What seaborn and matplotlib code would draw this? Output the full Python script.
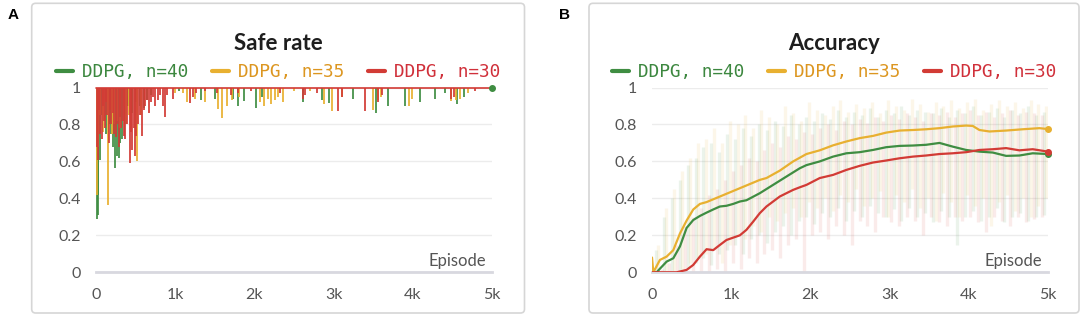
import matplotlib
matplotlib.use("Agg")
import matplotlib.pyplot as plt
import seaborn as sns
import pandas as pd
from matplotlib.patches import FancyBboxPatch
from matplotlib.lines import Line2D
from matplotlib.transforms import IdentityTransform

# ---------------- data ----------------
runs = ["DDPG, n=40", "DDPG, n=35", "DDPG, n=30"]
line_colors = ["#3f8d42", "#e8b030", "#d23b35"]
text_colors = ["#3c873f", "#dc9620", "#d0303a"]

x_ticks = [0, 1000, 2000, 3000, 4000, 5000]
x_tick_labels = ["0", "1k", "2k", "3k", "4k", "5k"]
y_ticks = [0, 0.2, 0.4, 0.6, 0.8, 1.0]
y_tick_labels = ["0", "0.2", "0.4", "0.6", "0.8", "1"]

# Safe rate: episodes where the rate dipped below 1, and the dip value
safe_ep_40 = [8, 30, 20, 50, 80, 120, 160, 190, 215, 240, 260, 285, 300, 330, 360, 400, 450,
              500, 560, 600, 650, 700, 1050, 1326, 1500, 1730, 1790, 1874, 2017, 2100, 2617,
              2850, 2943, 3248, 3530, 3683, 3900, 4087, 4278, 4404, 4557, 4650]
safe_val_40 = [0.29, 0.31, 0.42, 0.61, 0.85, 0.75, 0.80, 0.75, 0.68, 0.565, 0.63, 0.62, 0.70,
               0.72, 0.80, 0.90, 0.86, 0.92, 0.90, 0.89, 0.93, 0.96, 0.98, 0.93, 0.94, 0.94,
               0.90, 0.925, 0.89, 0.95, 0.92, 0.93, 0.915, 0.937, 0.86, 0.90, 0.90, 0.92,
               0.94, 0.97, 0.91, 0.95]

safe_ep_35 = [8, 30, 45, 90, 156, 200, 230, 260, 300, 350, 380, 420, 515, 570, 1000, 1100,
              1150, 1250, 1380, 1539, 1587, 1650, 1720, 1800, 2074, 2120, 2170, 2210, 2260,
              2300, 2357, 2500, 2700, 2878, 2978, 3100, 3500, 3560, 3600, 3957, 3990, 4487,
              4550, 4600, 4700]
safe_val_35 = [0.42, 0.68, 0.85, 0.76, 0.364, 0.75, 0.80, 0.82, 0.78, 0.90, 0.80, 0.85, 0.60,
               0.85, 0.97, 0.97, 0.92, 0.94, 0.92, 0.886, 0.834, 0.90, 0.93, 0.95, 0.92, 0.90,
               0.94, 0.91, 0.93, 0.95, 0.92, 0.98, 0.98, 0.91, 0.874, 0.95, 0.88, 0.93, 0.95,
               0.90, 0.94, 0.925, 0.93, 0.94, 0.97]

safe_ep_30 = [10, 25, 40, 55, 70, 85, 100, 115, 130, 145, 165, 180, 195, 210, 230, 250, 270,
              290, 305, 320, 340, 355, 370, 390, 430, 445, 460, 475, 490, 510, 530, 555, 577,
              600, 620, 640, 665, 690, 720, 750, 780, 810, 840, 865, 900, 978, 1183, 1220,
              1260, 1370, 1530, 1700, 1790, 1960, 2320, 2609, 2640, 2790, 3061, 3100, 3400,
              3565, 3610, 4480, 4520, 4790]
safe_val_30 = [0.68, 0.61, 0.88, 0.75, 0.72, 0.90, 0.82, 0.78, 0.92, 0.85, 0.70, 0.88, 0.80,
               0.86, 0.75, 0.73, 0.80, 0.68, 0.84, 0.78, 0.82, 0.74, 0.72, 0.80, 0.59, 0.76,
               0.66, 0.78, 0.63, 0.74, 0.80, 0.85, 0.737, 0.88, 0.90, 0.93, 0.86, 0.92, 0.95,
               0.90, 0.93, 0.96, 0.90, 0.843, 0.96, 0.94, 0.915, 0.95, 0.97, 0.98, 0.97, 0.96,
               0.97, 0.98, 0.97, 0.94, 0.96, 0.97, 0.874, 0.95, 0.874, 0.924, 0.96, 0.94,
               0.95, 0.98]
safe_final_episode = 5000
safe_final_value = 1.0

# Accuracy: smoothed curves
acc_ep_40 = [0, 59, 101, 185, 269, 353, 437, 521, 605, 689, 773, 857, 941, 1025, 1109, 1193,
             1361, 1529, 1697, 1866, 1950, 2118, 2286, 2454, 2622, 2790, 2958, 3126, 3294,
             3462, 3630, 3798, 3966, 4134, 4303, 4471, 4639, 4807, 5000]
acc_val_40 = [0.0, 0.0, 0.02, 0.058, 0.076, 0.14, 0.24, 0.283, 0.305, 0.323, 0.34, 0.356, 0.36,
              0.37, 0.383, 0.39, 0.428, 0.473, 0.518, 0.563, 0.58, 0.60, 0.626, 0.644, 0.65,
              0.662, 0.677, 0.684, 0.686, 0.69, 0.70, 0.68, 0.662, 0.653, 0.648, 0.63, 0.632,
              0.644, 0.64]

acc_ep_35 = [0, 17, 100, 185, 269, 353, 437, 521, 605, 689, 857, 1025, 1193, 1361, 1445, 1613,
             1782, 1950, 2118, 2286, 2454, 2622, 2790, 2958, 3126, 3294, 3462, 3630, 3798,
             3966, 4050, 4134, 4261, 4471, 4681, 4891, 5000]
acc_val_35 = [0.08, 0.0, 0.067, 0.085, 0.12, 0.21, 0.28, 0.34, 0.37, 0.38, 0.41, 0.44, 0.47,
              0.50, 0.51, 0.55, 0.60, 0.64, 0.66, 0.687, 0.708, 0.726, 0.738, 0.756, 0.767,
              0.77, 0.774, 0.78, 0.789, 0.794, 0.792, 0.77, 0.762, 0.767, 0.774, 0.78, 0.775]

acc_ep_30 = [0, 310, 437, 521, 605, 689, 773, 857, 941, 1109, 1193, 1277, 1361, 1445, 1529,
             1613, 1697, 1782, 1866, 1950, 2118, 2286, 2454, 2622, 2790, 2958, 3126, 3294,
             3462, 3630, 3798, 3966, 4134, 4303, 4471, 4639, 4807, 5000]
acc_val_30 = [0.0, 0.0, 0.013, 0.04, 0.085, 0.125, 0.12, 0.148, 0.175, 0.20, 0.23, 0.274, 0.32,
              0.356, 0.383, 0.41, 0.428, 0.446, 0.46, 0.473, 0.51, 0.527, 0.554, 0.576, 0.594,
              0.605, 0.617, 0.626, 0.632, 0.64, 0.644, 0.65, 0.662, 0.666, 0.672, 0.66, 0.666,
              0.653]

# Accuracy: raw (unsmoothed) per-episode spread, high and low of each stretch
raw_ep_40 = list(range(50, 5000, 100))
raw_hi_40 = [0.12, 0.30, 0.40, 0.50, 0.58, 0.62, 0.68, 0.70, 0.65, 0.75, 0.72, 0.78, 0.74, 0.80,
             0.77, 0.82, 0.79, 0.85, 0.80, 0.84, 0.82, 0.86, 0.83, 0.88, 0.84, 0.87, 0.85, 0.89,
             0.84, 0.88, 0.86, 0.90, 0.85, 0.88, 0.87, 0.86, 0.89, 0.84, 0.88, 0.86, 0.90, 0.85,
             0.87, 0.89, 0.84, 0.88, 0.86, 0.90, 0.85, 0.87]
raw_lo_40 = [0.0, 0.0, 0.0, 0.0, 0.02, 0.05, 0.08, 0.04, 0.10, 0.12, 0.15, 0.10, 0.18, 0.20,
             0.16, 0.22, 0.25, 0.20, 0.28, 0.30, 0.26, 0.32, 0.30, 0.35, 0.28, 0.33, 0.30, 0.36,
             0.32, 0.30, 0.34, 0.28, 0.35, 0.30, 0.32, 0.27, 0.33, 0.30, 0.15, 0.30, 0.33, 0.28,
             0.30, 0.35, 0.27, 0.30, 0.32, 0.28, 0.30, 0.31]
raw_ep_35 = list(range(80, 5000, 100))
raw_hi_35 = [0.15, 0.35, 0.45, 0.55, 0.62, 0.70, 0.72, 0.78, 0.70, 0.82, 0.80, 0.85, 0.78, 0.88,
             0.84, 0.80, 0.90, 0.86, 0.82, 0.92, 0.88, 0.85, 0.90, 0.93, 0.87, 0.91, 0.89, 0.92,
             0.86, 0.93, 0.90, 0.88, 0.94, 0.91, 0.87, 0.92, 0.90, 0.93, 0.89, 0.92, 0.94, 0.88,
             0.91, 0.93, 0.90, 0.92, 0.89, 0.93, 0.91, 0.90]
raw_lo_35 = [0.0, 0.0, 0.0, 0.02, 0.05, 0.08, 0.10, 0.12, 0.05, 0.15, 0.20, 0.18, 0.25, 0.22,
             0.30, 0.28, 0.32, 0.35, 0.30, 0.38, 0.35, 0.40, 0.33, 0.42, 0.38, 0.45, 0.36, 0.40,
             0.44, 0.30, 0.42, 0.38, 0.45, 0.35, 0.40, 0.28, 0.43, 0.38, 0.30, 0.42, 0.36, 0.40,
             0.25, 0.38, 0.42, 0.33, 0.40, 0.30, 0.36, 0.40]
raw_ep_30 = list(range(20, 5000, 100))
raw_hi_30 = [0.0, 0.02, 0.05, 0.15, 0.25, 0.30, 0.35, 0.42, 0.45, 0.50, 0.55, 0.58, 0.62, 0.60,
             0.66, 0.70, 0.68, 0.74, 0.72, 0.76, 0.75, 0.78, 0.80, 0.77, 0.82, 0.80, 0.83, 0.81,
             0.84, 0.82, 0.85, 0.83, 0.86, 0.84, 0.82, 0.86, 0.85, 0.87, 0.84, 0.86, 0.88, 0.85,
             0.87, 0.84, 0.86, 0.88, 0.85, 0.87, 0.86, 0.85]
raw_lo_30 = [0.0, 0.0, 0.0, 0.0, 0.0, 0.0, 0.0, 0.0, 0.02, 0.0, 0.05, 0.02, 0.08, 0.05, 0.10,
             0.12, 0.08, 0.15, 0.18, 0.0, 0.20, 0.22, 0.18, 0.25, 0.20, 0.15, 0.28, 0.25, 0.22,
             0.30, 0.27, 0.25, 0.30, 0.28, 0.20, 0.30, 0.27, 0.25, 0.30, 0.28, 0.30, 0.27, 0.22,
             0.30, 0.28, 0.25, 0.30, 0.27, 0.29, 0.30]

safe_ep = [safe_ep_40, safe_ep_35, safe_ep_30]
safe_val = [safe_val_40, safe_val_35, safe_val_30]
acc_ep = [acc_ep_40, acc_ep_35, acc_ep_30]
acc_val = [acc_val_40, acc_val_35, acc_val_30]
raw_ep = [raw_ep_40, raw_ep_35, raw_ep_30]
raw_hi = [raw_hi_40, raw_hi_35, raw_hi_30]
raw_lo = [raw_lo_40, raw_lo_35, raw_lo_30]

# ---------------- style ----------------
sns.set_theme(style="white")
plt.rcParams["font.family"] = ["Lato", "DejaVu Sans"]

W, H = 1084, 318
fig = plt.figure(figsize=(W / 100, H / 100), dpi=100)
fig.patch.set_facecolor("white")


def rect(l, r, t, b):
    return [l / W, 1 - b / H, (r - l) / W, (b - t) / H]


# panel frames (pixel coords)
for (x0, x1) in [(31.7, 524.5), (589, 1079)]:
    fig.patches.append(FancyBboxPatch((x0, H - 313), x1 - x0, 309.7,
                                      boxstyle="round,pad=0,rounding_size=4",
                                      transform=IdentityTransform(), facecolor="none",
                                      edgecolor="#d6d6d6", lw=1.2, zorder=0))

axA = fig.add_axes(rect(96, 492, 87.5, 272.3))
axB = fig.add_axes(rect(652, 1048, 87.5, 272.3))

for ax in (axA, axB):
    ax.set_facecolor("none")
    ax.set_xlim(0, 5000)
    ax.set_ylim(0, 1)
    ax.set_xticks(x_ticks)
    ax.set_xticklabels(x_tick_labels)
    ax.set_yticks(y_ticks)
    ax.set_yticklabels(y_tick_labels)
    for s in ("top", "right", "left"):
        ax.spines[s].set_visible(False)
    ax.spines["bottom"].set_color("#d8d8df")
    ax.spines["bottom"].set_linewidth(2)
    ax.grid(axis="y", color="#ececec", lw=1)
    ax.grid(axis="x", visible=False)
    ax.set_axisbelow(True)
    ax.tick_params(axis="y", length=0, pad=11, labelsize=11.5, labelcolor="#555555")
    ax.tick_params(axis="x", direction="inout", length=10, width=1.2, color="#d8d8df",
                   pad=6, labelsize=11.5, labelcolor="#555555")
    ax.text(4920, 0.06, "Episode", ha="right", va="center", fontsize=12, color="#555555")

# ---- A: Safe rate ----
for i in range(3):
    axA.vlines(safe_ep[i], safe_val[i], 1.0, color=line_colors[i], lw=1.25, zorder=2 + i)
axA.axhline(1.0, color=line_colors[2], lw=1.2, clip_on=False, zorder=6)
axA.scatter([safe_final_episode], [safe_final_value], s=16, color=line_colors[0],
            zorder=7, clip_on=False)
axA.set_xlabel("")
axA.set_ylabel("")

# ---- B: Accuracy ----
for i in range(3):
    axB.vlines(raw_ep[i], raw_lo[i], raw_hi[i], color=line_colors[i], alpha=0.1, lw=2.4,
               zorder=1)

frames = []
for i in range(3):
    frames.append(pd.DataFrame({"episode": acc_ep[i], "accuracy": acc_val[i], "run": runs[i]}))
df = pd.concat(frames, ignore_index=True)
sns.lineplot(data=df, x="episode", y="accuracy", hue="run", hue_order=runs,
             palette=dict(zip(runs, line_colors)), lw=1.6, estimator=None, sort=False,
             legend=False, ax=axB, zorder=3)
for i in range(3):
    axB.scatter([acc_ep[i][-1]], [acc_val[i][-1]], s=16, color=line_colors[i], zorder=4,
                clip_on=False)
axB.set_xlabel("")
axB.set_ylabel("")

# titles, legends, panel letters
for (cx, title, letter, lx) in [((31.7 + 524.5) / 2, "Safe rate", "A", 13),
                                ((589 + 1079) / 2, "Accuracy", "B", 565)]:
    fig.text(cx / W, 1 - 43 / H, title, ha="center", va="center", fontsize=16,
             fontweight="bold", color="#1e1e1e")
    fig.text(lx / W, 1 - 15 / H, letter, ha="center", va="center", fontsize=11,
             fontweight="bold", color="black", family=["Liberation Sans", "DejaVu Sans"])
    handles = [Line2D([], [], color=c, lw=3) for c in line_colors]
    ax = axA if letter == "A" else axB
    leg = ax.legend(handles, runs, loc="center", bbox_to_anchor=(cx / W, 1 - 72 / H),
                    bbox_transform=fig.transFigure, ncol=3, frameon=False,
                    prop={"family": "DejaVu Sans Mono", "size": 12.8},
                    handlelength=1.0, handletextpad=0.5, columnspacing=1.3,
                    borderpad=0, borderaxespad=0)
    for t, c in zip(leg.get_texts(), text_colors):
        t.set_color(c)

fig.savefig("out.png", dpi=100)
